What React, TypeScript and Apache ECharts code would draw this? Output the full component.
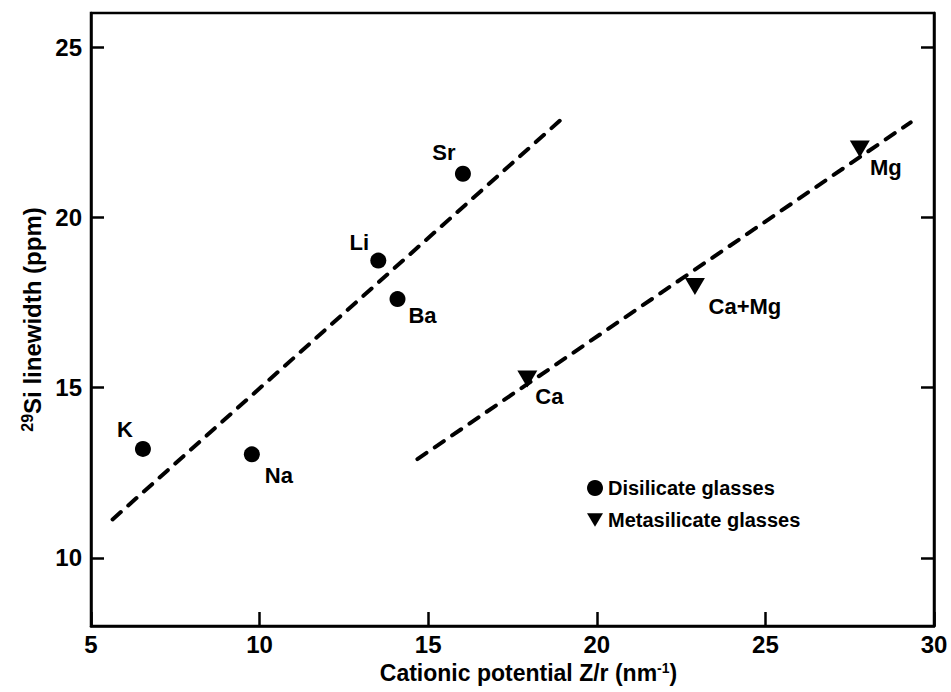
import { useEffect, useRef } from 'react';
import * as echarts from 'echarts';

// Disilicate glasses: cation, cationic potential Z/r (nm^-1), 29Si linewidth (ppm)
const disilicateNames = ['K', 'Na', 'Li', 'Ba', 'Sr'];
const disilicateZr = [6.54, 9.77, 13.52, 14.09, 16.03];
const disilicateWidth = [13.2, 13.04, 18.73, 17.6, 21.28];

// Metasilicate glasses
const metasilicateNames = ['Ca', 'Ca+Mg', 'Mg'];
const metasilicateZr = [17.94, 22.91, 27.8];
const metasilicateWidth = [15.25, 17.97, 22.01];

// Dashed trend lines (end points)
const disilicateTrendZr = [5.64, 19.11];
const disilicateTrendWidth = [11.13, 23.02];
const metasilicateTrendZr = [14.68, 29.31];
const metasilicateTrendWidth = [12.9, 22.79];

const yTickValues = [10, 15, 20, 25];

// label placement around each marker (px, relative to marker centre)
const labelOffsets: Record<string, [number, number]> = {
  K: [-18, -19],
  Na: [27, 21],
  Li: [-19, -18],
  Ba: [25, 16],
  Sr: [-19, -21],
  Ca: [22, 17],
  'Ca+Mg': [50, 20],
  Mg: [26, 19],
};

const FONT = '"Liberation Sans", Arial, "DejaVu Sans", sans-serif';
const INK = '#000';
const TRIANGLE_DOWN = 'path://M0,0L20,0L10,17Z';

function pointData(names: string[], xs: number[], ys: number[]) {
  return names.map((name, i) => ({
    name,
    value: [xs[i], ys[i]],
    label: { offset: labelOffsets[name] },
  }));
}

function lineData(xs: number[], ys: number[]) {
  return xs.map((x, i) => [x, ys[i]]);
}

export default function App() {
  const ref = useRef<HTMLDivElement>(null);

  useEffect(() => {
    if (!ref.current) return;
    const chart = echarts.init(ref.current, null, { renderer: 'svg' });

    const pointLabel = {
      show: true,
      position: 'inside',
      formatter: '{b}',
      color: INK,
      fontFamily: FONT,
      fontWeight: 'bold',
      fontSize: 22,
      align: 'center',
      verticalAlign: 'middle',
    };

    const dashed = {
      color: INK,
      width: 4,
      type: [11, 10],
      cap: 'round',
    };

    chart.setOption({
      animation: false,
      backgroundColor: '#fff',
      textStyle: { fontFamily: FONT, color: INK },
      grid: {
        left: 91,
        top: 13,
        right: 17,
        bottom: 66,
        show: true,
        borderColor: INK,
        borderWidth: 2.5,
        backgroundColor: 'transparent',
      },
      legend: {
        orient: 'vertical',
        left: 582,
        top: 473,
        itemWidth: 16,
        itemHeight: 16,
        itemGap: 12,
        selectedMode: false,
        textStyle: { fontFamily: FONT, fontWeight: 'bold', fontSize: 20, color: INK },
        data: [
          { name: 'Disilicate glasses', icon: 'circle', itemStyle: { color: INK, opacity: 1 } },
          { name: 'Metasilicate glasses', icon: TRIANGLE_DOWN, itemStyle: { color: INK, opacity: 1 } },
        ],
      },
      xAxis: {
        type: 'value',
        min: 5,
        max: 30,
        interval: 5,
        name: 'Cationic potential Z/r (nm{sup|-1})',
        nameLocation: 'middle',
        nameGap: 30,
        nameTextStyle: {
          fontFamily: FONT,
          fontWeight: 'bold',
          fontSize: 23,
          color: INK,
          padding: [0, 0, 0, 32],
          rich: {
            sup: { fontFamily: FONT, fontWeight: 'bold', fontSize: 14, verticalAlign: 'top', padding: [0, 0, 10, 0] },
          },
        },
        axisLine: { show: true, lineStyle: { color: INK, width: 2.5 } },
        axisTick: { show: true, inside: true, length: 14, lineStyle: { color: INK, width: 2.5 } },
        axisLabel: { fontFamily: FONT, fontWeight: 'bold', fontSize: 24, color: INK, margin: 6 },
        splitLine: { show: false },
      },
      yAxis: [
        {
          type: 'value',
          min: 8,
          max: 26,
          name: '{sup|29}Si linewidth (ppm)',
          nameLocation: 'middle',
          nameGap: 25,
          nameRotate: 90,
          nameTextStyle: {
            fontFamily: FONT,
            fontWeight: 'bold',
            fontSize: 24,
            color: INK,
            rich: {
              sup: { fontFamily: FONT, fontWeight: 'bold', fontSize: 16, verticalAlign: 'top', padding: [0, 0, 10, 0] },
            },
          },
          axisLine: { show: true, lineStyle: { color: INK, width: 2.5 } },
          axisTick: { show: true, inside: true, length: 13, customValues: yTickValues, lineStyle: { color: INK, width: 2.5 } },
          axisLabel: { fontFamily: FONT, fontWeight: 'bold', fontSize: 24, color: INK, margin: 9, customValues: yTickValues },
          splitLine: { show: false },
        },
        {
          type: 'value',
          position: 'right',
          min: 8,
          max: 26,
          axisLine: { show: true, lineStyle: { color: INK, width: 2.5 } },
          axisTick: { show: true, inside: true, length: 13, customValues: yTickValues, lineStyle: { color: INK, width: 2.5 } },
          axisLabel: { show: false },
          splitLine: { show: false },
        },
      ],
      series: [
        {
          name: 'Disilicate trend',
          type: 'line',
          data: lineData(disilicateTrendZr, disilicateTrendWidth),
          symbol: 'none',
          silent: true,
          lineStyle: dashed,
          z: 1,
        },
        {
          name: 'Metasilicate trend',
          type: 'line',
          data: lineData(metasilicateTrendZr, metasilicateTrendWidth),
          symbol: 'none',
          silent: true,
          lineStyle: dashed,
          z: 1,
        },
        {
          name: 'Disilicate glasses',
          type: 'scatter',
          symbol: 'circle',
          symbolSize: 16,
          itemStyle: { color: INK, opacity: 1 },
          label: pointLabel,
          data: pointData(disilicateNames, disilicateZr, disilicateWidth),
          z: 3,
        },
        {
          name: 'Metasilicate glasses',
          type: 'scatter',
          symbol: 'triangle',
          symbolRotate: 180,
          symbolSize: [20, 17],
          itemStyle: { color: INK, opacity: 1 },
          label: pointLabel,
          data: pointData(metasilicateNames, metasilicateZr, metasilicateWidth),
          z: 3,
        },
      ],
    });

    return () => chart.dispose();
  }, []);

  return (
    <div
      ref={ref}
      style={{ position: 'fixed', left: 0, top: 0, width: 951, height: 692, background: '#fff' }}
    />
  );
}
